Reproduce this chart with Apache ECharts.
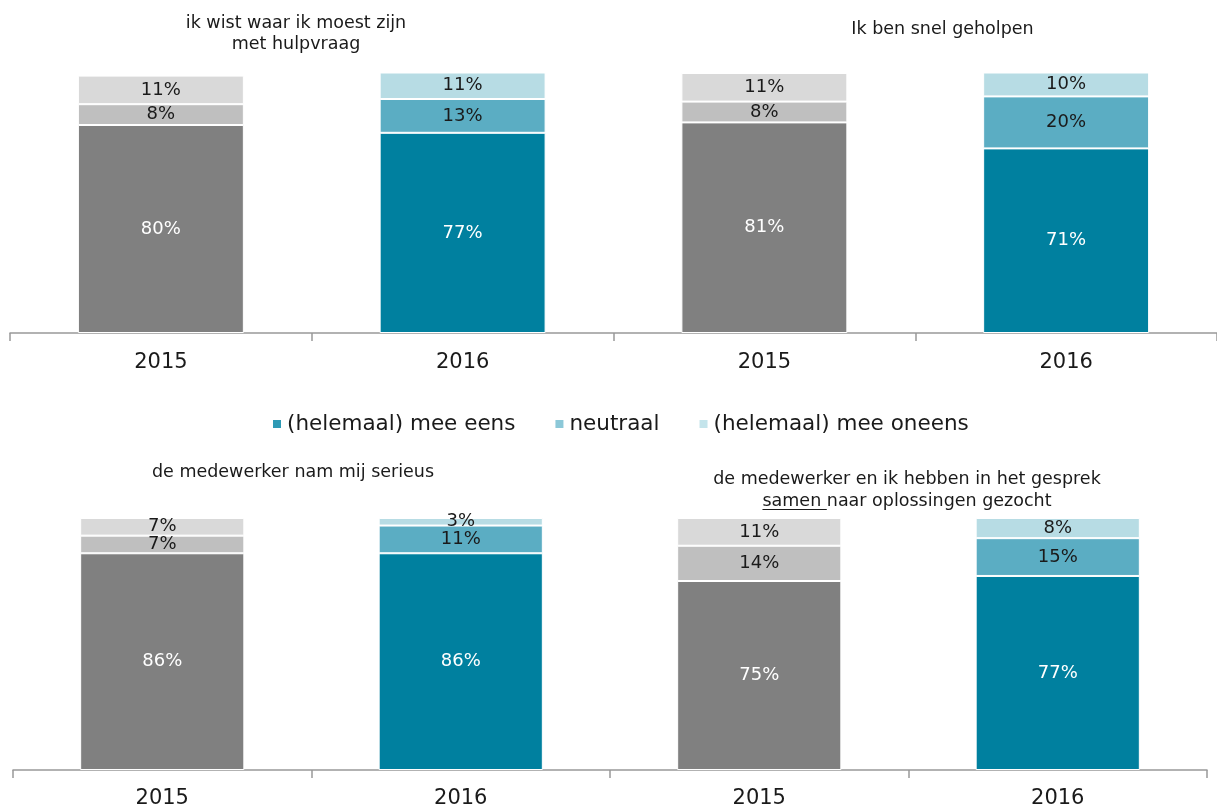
<!DOCTYPE html>
<html>
<head>
<meta charset="utf-8">
<script src="https://cdn.jsdelivr.net/npm/echarts@6/dist/echarts.min.js"></script>
<style>html,body{margin:0;padding:0;background:#fff}#c{width:1217px;height:809px}</style>
</head>
<body>
<div id="c"></div>
<script>
const seriesNames = ['(helemaal) mee eens', 'neutraal', '(helemaal) mee oneens'];
const categoriesTop = ['2015', '2016', '2015', '2016'];
const categoriesBottom = ['2015', '2016', '2015', '2016'];
const eensTop = [80, 77, 81, 71];
const neutraalTop = [8, 13, 8, 20];
const oneensTop = [11, 11, 11, 10];
const eensBottom = [86, 86, 75, 77];
const neutraalBottom = [7, 11, 14, 15];
const oneensBottom = [7, 3, 11, 8];
const titleTopLeft = 'ik wist waar ik moest zijn\nmet hulpvraag';
const titleTopRight = 'Ik ben snel geholpen';
const titleBottomLeft = 'de medewerker nam mij serieus';
const titleBottomRight1 = 'de medewerker en ik hebben in het gesprek';
const titleBottomRight2a = 'samen ';
const titleBottomRight2b = 'naar oplossingen gezocht';

const FONT = '"DejaVu Sans", Verdana, sans-serif';
const teal = ['#00809F', '#5BADC3', '#B7DCE4'];
const grey = ['#808080', '#BFBFBF', '#D9D9D9'];
const labelColors = ['#ffffff', '#1a1a1a', '#1a1a1a'];

function mkData(vals, k) {
  return vals.map((v, i) => ({
    value: v,
    itemStyle: { color: i % 2 === 0 ? grey[k] : teal[k] }
  }));
}
function mkSeries(vals, k, gi) {
  return {
    name: seriesNames[k],
    type: 'bar',
    stack: 'g' + gi,
    xAxisIndex: gi,
    yAxisIndex: gi,
    barWidth: '55%',
    color: teal[k],
    data: mkData(vals, k),
    itemStyle: { borderColor: '#ffffff', borderWidth: 1 },
    label: {
      show: true,
      position: 'inside',
      formatter: '{c}%',
      color: labelColors[k],
      fontFamily: FONT,
      fontSize: 18
    },
    emphasis: { disabled: true }
  };
}

const TITLE_SIZE = 17.5;
const TP = 5; // title padding offset
const mctx = document.createElement('canvas').getContext('2d');
mctx.font = TITLE_SIZE + 'px ' + FONT;
const line2W = mctx.measureText(titleBottomRight2a + titleBottomRight2b).width;
const samenW = mctx.measureText(titleBottomRight2a).width;
const BR_CX = 907;
const ulX1 = BR_CX - line2W / 2;

const chart = echarts.init(document.getElementById('c'), null, { renderer: 'canvas' });
function tStyle(lh) {
  return { fontFamily: FONT, fontSize: TITLE_SIZE, fontWeight: 'normal', color: '#1a1a1a', lineHeight: lh };
}
function axisCommon(margin) {
  return {
    type: 'category',
    axisLine: { lineStyle: { color: '#999999', width: 1.5 } },
    axisTick: { show: true, length: 8, lineStyle: { color: '#999999', width: 1.5 } },
    axisLabel: { fontFamily: FONT, fontSize: 21, color: '#1a1a1a', margin: margin }
  };
}
chart.setOption({
  animation: false,
  textStyle: { fontFamily: FONT },
  title: [
    { text: titleTopLeft, left: 296 - TP, top: 8, textAlign: 'center', textStyle: tStyle(21) },
    { text: titleTopRight, left: 942.5 - TP, top: 14, textAlign: 'center', textStyle: tStyle(21) },
    { text: titleBottomLeft, left: 293 - TP, top: 457, textAlign: 'center', textStyle: tStyle(21) },
    { text: titleBottomRight1 + '\n' + titleBottomRight2a + titleBottomRight2b, left: BR_CX - TP, top: 463, textAlign: 'center', textStyle: tStyle(22) }
  ],
  legend: {
    data: seriesNames.map((n, k) => ({ name: n, itemStyle: { color: ['#2E9AB5', '#8CC8D8', '#C4E4EB'][k] } })),
    left: 266,
    top: 408,
    icon: 'rect',
    itemWidth: 10,
    itemHeight: 10,
    itemGap: 38,
    textStyle: { fontFamily: FONT, fontSize: 21.5, color: '#1a1a1a' },
    selectedMode: false
  },
  grid: [
    { left: 10, width: 1218, top: 73, height: 260 },
    { left: 13, width: 1194, top: 518, height: 252 }
  ],
  xAxis: [
    Object.assign(axisCommon(19), { gridIndex: 0, data: categoriesTop }),
    Object.assign(axisCommon(18), { gridIndex: 1, data: categoriesBottom })
  ],
  yAxis: [
    { type: 'value', gridIndex: 0, min: 0, max: 100, show: false },
    { type: 'value', gridIndex: 1, min: 0, max: 100, show: false }
  ],
  series: [
    mkSeries(eensTop, 0, 0), mkSeries(neutraalTop, 1, 0), mkSeries(oneensTop, 2, 0),
    mkSeries(eensBottom, 0, 1), mkSeries(neutraalBottom, 1, 1), mkSeries(oneensBottom, 2, 1)
  ],
  graphic: [
    { type: 'line', shape: { x1: ulX1, y1: 509.5, x2: ulX1 + samenW, y2: 509.5 }, style: { stroke: '#1a1a1a', lineWidth: 1 } }
  ]
});
</script>
</body>
</html>
